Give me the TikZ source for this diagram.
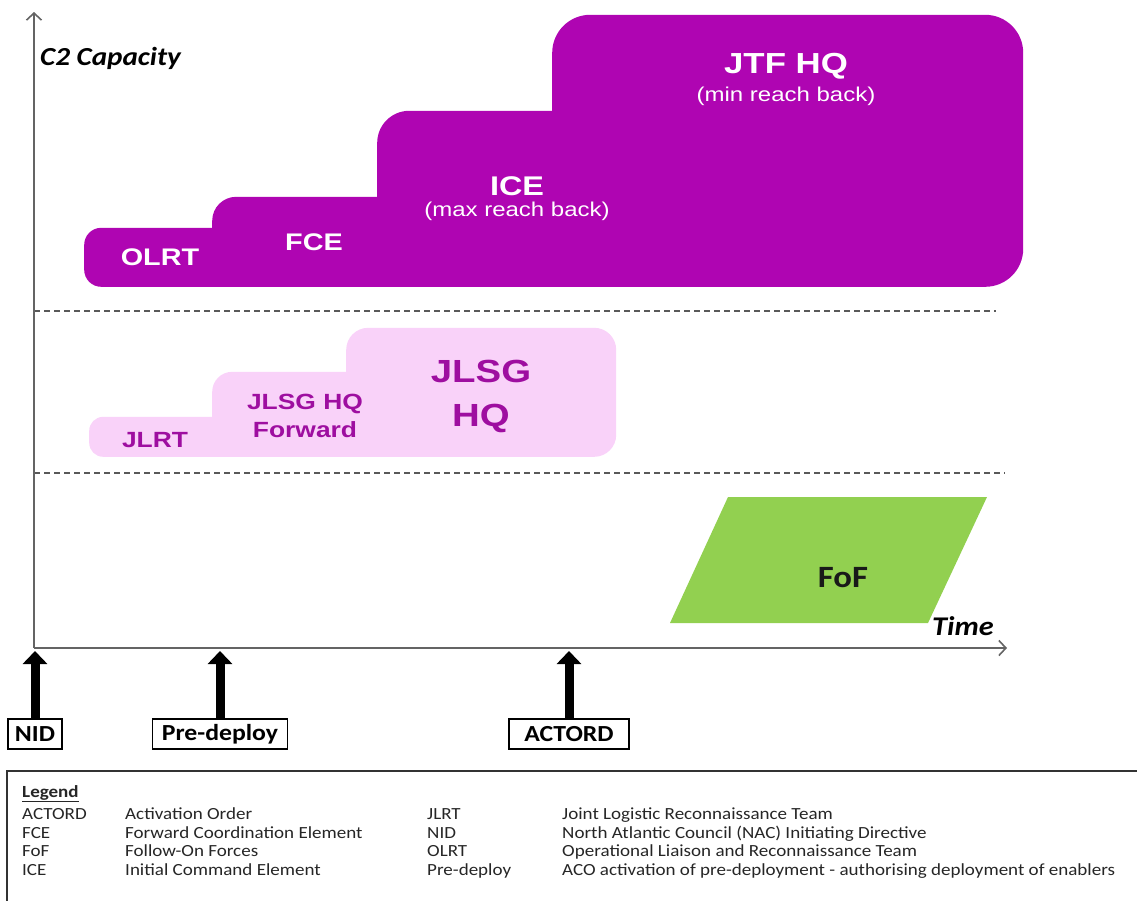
\documentclass[tikz,border=0pt]{standalone}
\usepackage{fontspec}
\setmainfont[FakeStretch=1.12]{Carlito}
\newfontfamily\arialFont[FakeStretch=1.2]{Liberation Sans}
\usetikzlibrary{arrows.meta, calc}

\definecolor{c2Purple}{RGB}{175,5,178}
\definecolor{jlsgPink}{RGB}{249,210,249}
\definecolor{jlsgText}{RGB}{158,14,160}
\definecolor{fofGreen}{RGB}{146,208,80}
\definecolor{axisGray}{RGB}{100,100,100}

\tikzstyle{darkStep}    = [rectangle,
                           anchor=south west,
                           inner sep=0pt,
                           fill=c2Purple]
\tikzstyle{lightStep}   = [rectangle,
                           anchor=south west,
                           inner sep=0pt,
                           fill=jlsgPink]
\tikzstyle{darkLabel}   = [anchor=base,
                           inner sep=0pt,
                           text=white,
                           font=\arialFont\bfseries\fontsize{24}{24}\selectfont]
\tikzstyle{darkNote}    = [anchor=base,
                           inner sep=0pt,
                           text=white,
                           font=\arialFont\fontsize{20}{20}\selectfont]
\tikzstyle{lightLabel}  = [anchor=base,
                           inner sep=0pt,
                           text=jlsgText,
                           font=\arialFont\bfseries\fontsize{22}{22}\selectfont]
\tikzstyle{fofLabel}    = [anchor=base,
                           inner sep=0pt,
                           text=black!90,
                           font=\bfseries\fontsize{31}{31}\selectfont]
\tikzstyle{axisTitle}   = [anchor=base,
                           inner sep=0pt,
                           font=\bfseries\itshape\fontsize{26}{26}\selectfont]
\tikzstyle{eventBox}    = [rectangle,
                           anchor=north,
                           minimum height=30pt,
                           inner sep=0pt,
                           draw=black,
                           line width=1.5pt,
                           fill=white,
                           font=\bfseries\fontsize{23}{23}\selectfont]
\tikzstyle{legendText}  = [anchor=base west,
                           inner sep=0pt,
                           text=black!85,
                           font=\fontsize{17}{17}\selectfont]
\tikzstyle{axisLine}    = [axisGray, line width=1.6pt, -{Straight Barb[length=7pt, width=15pt]}]
\tikzstyle{bandLine}    = [black!65, line width=1.5pt, dash pattern=on 6pt off 4pt]
\tikzstyle{eventArrow}  = [black, line width=9pt, -{Triangle[length=13pt, width=24pt]}]
\tikzstyle{legendFrame} = [black!80, line width=1.5pt]

\begin{document}
\begin{tikzpicture}[x=1pt, y=-1pt]
\useasboundingbox (0,0) rectangle (1137,900);

\node [darkStep, minimum width=500pt, minimum height=59pt, rounded corners=17pt]  (OLRTstep) at (84,287) {};
\node [darkStep, minimum width=400pt, minimum height=90pt, rounded corners=24pt]  (FCEstep)  at (212,287) {};
\node [darkStep, minimum width=300pt, minimum height=176pt, rounded corners=32pt] (ICEstep)  at (377,287) {};
\node [darkStep, minimum width=471pt, minimum height=272pt, rounded corners=38pt] (JTFstep)  at (552,287) {};

\node [darkLabel] (OLRT) at (160,265) {OLRT};
\node [darkLabel] (FCE)  at (314,250) {FCE};
\node [darkLabel, font=\arialFont\bfseries\fontsize{27}{27}\selectfont] (ICE) at (517,195) {ICE};
\node [darkNote]  (ICEnote) at ([shift={(0,21)}] ICE.base) {(max reach back)};
\node [darkLabel, font=\arialFont\bfseries\fontsize{29}{29}\selectfont] (JTF) at (786,73) {JTF HQ};
\node [darkNote]  (JTFnote) at ([shift={(0,28)}] JTF.base) {(min reach back)};


\node [lightStep, minimum width=300pt, minimum height=40pt, rounded corners=14pt]  (JLRTstep)    at (89,457) {};
\node [lightStep, minimum width=250pt, minimum height=85pt, rounded corners=20pt]  (JLSGfwdStep) at (212,457) {};
\node [lightStep, minimum width=270pt, minimum height=129pt, rounded corners=22pt] (JLSGstep)    at (346,457) {};

\node [lightLabel] (JLRT)    at (155,447) {JLRT};
\node [lightLabel] (JLSGHQ)  at (305,409) {JLSG HQ};
\node [lightLabel] (Forward) at ([shift={(0,28)}] JLSGHQ.base) {Forward};
\node [lightLabel, font=\arialFont\bfseries\fontsize{32}{32}\selectfont] (JLSG) at (481,382) {JLSG};
\node [lightLabel, font=\arialFont\bfseries\fontsize{32}{32}\selectfont] (HQ)   at ([shift={(0,44)}] JLSG.base) {HQ};


\fill [fofGreen] (728,497) -- (987,497) -- (928,623) -- (670,623) -- cycle;
\node [fofLabel] (FoF) at (843,587) {FoF};


\coordinate (origin) at (34,648);
\coordinate (yTip)   at (34,12);
\coordinate (xTip)   at (1007,648);

\draw [bandLine] (origin |- 0,311) -- (996,311);
\draw [bandLine] (origin |- 0,473) -- (1005,473);

\draw [axisLine] (origin) -- (yTip);
\draw [axisLine] (origin) -- (xTip);

\node [axisTitle, anchor=base west] (C2) at (40,65) {C2 Capacity};
\node [axisTitle, font=\bfseries\itshape\fontsize{27}{27}\selectfont] (Time) at (963,635) {Time};


\node [eventBox, minimum width=54pt]  (NID)       at (35,718)  {NID};
\node [eventBox, minimum width=135pt] (PreDeploy) at (220,718) {Pre-deploy};
\node [eventBox, minimum width=120pt] (ACTORD)    at (569,718) {ACTORD};

\coordinate (tNID) at (35,651);
\coordinate (tPre) at (220,651);
\coordinate (tACT) at (569,651);

\draw [eventArrow] (NID) -- (tNID);
\draw [eventArrow] (PreDeploy) -- (tPre);
\draw [eventArrow] (ACTORD) -- (tACT);


\draw [legendFrame] (7,771) rectangle (1150,910);

\node [legendText, font=\bfseries\fontsize{17}{17}\selectfont] (lgTitle) at (22,797) {\underline{Legend}};

\node [legendText] (lgACTORD)  at ([shift={(0,22)}] lgTitle.base west)  {ACTORD};
\node [legendText] (lgFCE)     at ([shift={(0,19)}] lgACTORD.base west) {FCE};
\node [legendText] (lgFoF)     at ([shift={(0,18)}] lgFCE.base west)    {FoF};
\node [legendText] (lgICE)     at ([shift={(0,19)}] lgFoF.base west)    {ICE};

\node [legendText] (dfACTORD)  at ([shift={(103,0)}] lgACTORD.base west) {Activation Order};
\node [legendText] (dfFCE)     at ([shift={(103,0)}] lgFCE.base west)    {Forward Coordination Element};
\node [legendText] (dfFoF)     at ([shift={(103,0)}] lgFoF.base west)    {Follow-On Forces};
\node [legendText] (dfICE)     at ([shift={(103,0)}] lgICE.base west)    {Initial Command Element};

\node [legendText] (lgJLRT)    at ([shift={(405,0)}] lgACTORD.base west) {JLRT};
\node [legendText] (lgNID)     at ([shift={(405,0)}] lgFCE.base west)    {NID};
\node [legendText] (lgOLRT)    at ([shift={(405,0)}] lgFoF.base west)    {OLRT};
\node [legendText] (lgPre)     at ([shift={(405,0)}] lgICE.base west)    {Pre-deploy};

\node [legendText] (dfJLRT)    at ([shift={(135,0)}] lgJLRT.base west) {Joint Logistic Reconnaissance Team};
\node [legendText] (dfNID)     at ([shift={(135,0)}] lgNID.base west)  {North Atlantic Council (NAC) Initiating Directive};
\node [legendText] (dfOLRT)    at ([shift={(135,0)}] lgOLRT.base west) {Operational Liaison and Reconnaissance Team};
\node [legendText] (dfPre)     at ([shift={(135,0)}] lgPre.base west)  {ACO activation of pre-deployment - authorising deployment of enablers};

\end{tikzpicture}
\end{document}
